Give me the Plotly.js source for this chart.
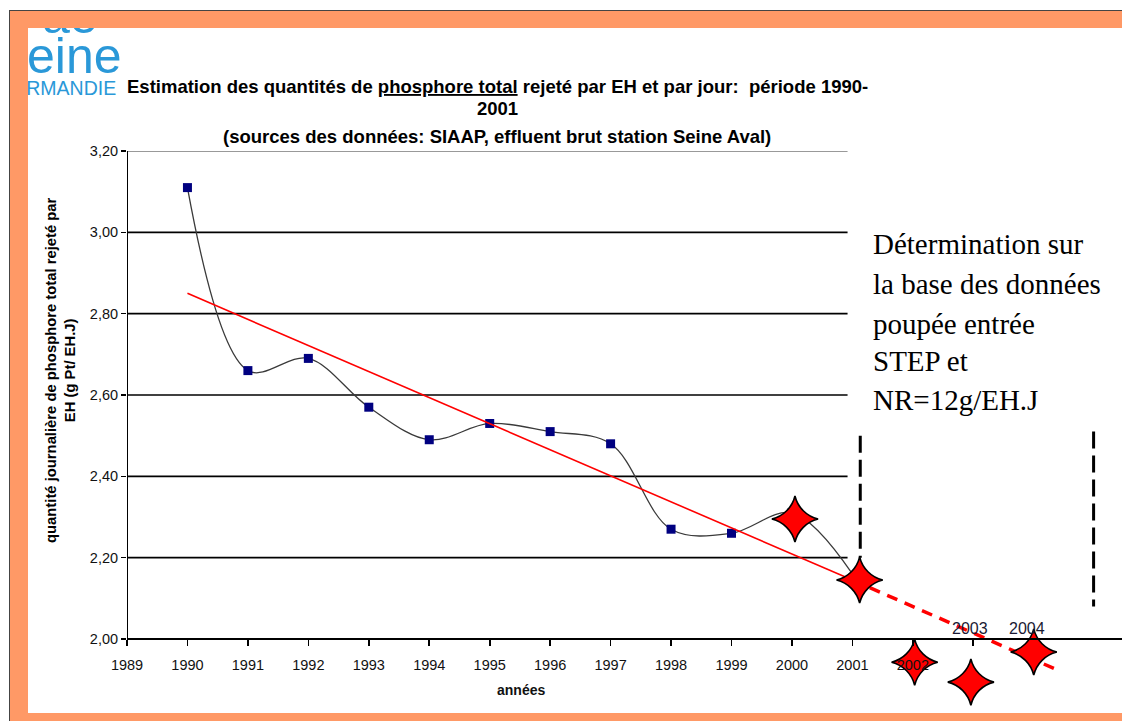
<!DOCTYPE html>
<html>
<head>
<meta charset="utf-8">
<script src="https://cdn.plot.ly/plotly-3.0.1.min.js"></script>
<style>
  html, body { margin:0; padding:0; background:#ffffff; width:1122px; height:721px; overflow:hidden; }
  #frame { position:absolute; left:9px; top:10px; width:1113px; height:711px; background:#FF9966;
           border-left:1px solid #444; border-top:1px solid #444; box-sizing:border-box; }
  #plot { position:absolute; left:28px; top:28px; width:1094px; height:685px; overflow:hidden; background:#ffffff; }
</style>
</head>
<body>
<div id="frame"></div>
<div id="plot"></div>
<script>
// ---------------- DATA ----------------
const years = [1990, 1991, 1992, 1993, 1994, 1995, 1996, 1997, 1998, 1999, 2000, 2001];
const phosphore = [3.11, 2.66, 2.69, 2.57, 2.49, 2.53, 2.51, 2.48, 2.27, 2.26, 2.31, 2.16];

const trendYears = [1990, 2001];
const trendValues = [2.85, 2.145];
const projYears = [2001, 2004.45];
const projValues = [2.145, 1.92];

const starYears = [2000.05, 2001.12, 2002.03, 2002.96, 2004.0];
const starValues = [2.295, 2.145, 1.943, 1.894, 1.968];

const sepLeftX = [2001.13, 2001.13];
const sepLeftY = [2.50, 2.20];
const sepRightX = [2004.99, 2004.99];
const sepRightY = [2.51, 2.08];

const xTickVals = [1989, 1990, 1991, 1992, 1993, 1994, 1995, 1996, 1997, 1998, 1999, 2000, 2001, 2002, 2003];
const xTickText = ['1989', '1990', '1991', '1992', '1993', '1994', '1995', '1996', '1997', '1998', '1999', '2000', '2001', '2002', ''];
const yTickVals = [2.0, 2.2, 2.4, 2.6, 2.8, 3.0, 3.2];
const yTickText = ['2,00', '2,20', '2,40', '2,60', '2,80', '3,00', '3,20'];

const extraYearLabels = ['2003', '2004'];
const extraYearX = [2002.95, 2003.89];

const noteLines = ['Détermination sur', 'la base des données', 'poupée entrée', 'STEP et', 'NR=12g/EH.J'];

// ---------------- LAYOUT GEOMETRY ----------------
const W = 1094, H = 685;
const M = { l: 99, r: 0, t: 123, b: 0 };
const plotW = W - M.l - M.r, plotH = H - M.t - M.b;
const xRange = [1989, 1989 + plotW / 60.45];
const yTop = 3.2, yAxisMin = 2.0;
const yRange = [yTop - plotH / 406.67, yTop];
const gridEnd = 2000.92;

function px(x) { return (x - M.l) / plotW; }
function py(y) { return 1 - (y - M.t) / plotH; }

const SANS = 'Liberation Sans, Arial, sans-serif';
const SERIF = 'Liberation Serif, Times New Roman, serif';
const LOGO = '#2a98d8';

// ---------------- TRACES ----------------
const traces = [
  { x: years, y: phosphore, mode: 'lines', line: { shape: 'spline', smoothing: 1, color: '#3a3a3a', width: 1.3 }, hoverinfo: 'skip' },
  { x: years.slice(0, 11), y: phosphore.slice(0, 11), mode: 'markers',
    marker: { symbol: 'square', size: 9, color: '#000080' }, hoverinfo: 'skip' },
  { x: trendYears, y: trendValues, mode: 'lines', line: { color: '#FF0000', width: 1.6 }, hoverinfo: 'skip' },
  { x: projYears, y: projValues, mode: 'lines', line: { color: '#FF0000', width: 3.5, dash: '11px,8px' }, hoverinfo: 'skip' },
  { x: sepLeftX, y: sepLeftY, mode: 'lines', line: { color: '#000000', width: 3, dash: '17px,7px' }, hoverinfo: 'skip' },
  { x: sepRightX, y: sepRightY, mode: 'lines', line: { color: '#000000', width: 3, dash: '17px,7px' }, hoverinfo: 'skip' },
  { x: starYears, y: starValues, mode: 'markers', cliponaxis: false,
    marker: { symbol: 'star-diamond', size: 33, color: '#FF0000', line: { color: '#000000', width: 1.6 } }, hoverinfo: 'skip' }
];

// ---------------- SHAPES ----------------
const shapes = [];
yTickVals.forEach(v => {
  if (v === yAxisMin) return;
  shapes.push({ type: 'line', xref: 'x', yref: 'y', x0: xRange[0], x1: gridEnd, y0: v, y1: v,
    line: { color: v === yTop ? '#777777' : '#000000', width: 1.7 }, layer: 'below' });
});
shapes.push({ type: 'line', xref: 'x', yref: 'y', x0: xRange[0], x1: xRange[0], y0: yAxisMin, y1: yTop,
  line: { color: '#000000', width: 2 } });

// ---------------- ANNOTATIONS ----------------
const annotations = [];
// logo (cropped at the frame edge, as in the original)
annotations.push({ xref: 'paper', yref: 'paper', x: px(12), y: py(-12), xanchor: 'left', yanchor: 'middle',
  text: 'ae', showarrow: false, font: { family: SANS, size: 50, color: LOGO } });
annotations.push({ xref: 'paper', yref: 'paper', x: px(-3), y: py(28), xanchor: 'left', yanchor: 'middle',
  text: 'eine', showarrow: false, font: { family: SANS, size: 50, color: LOGO } });
annotations.push({ xref: 'paper', yref: 'paper', x: px(90), y: py(60), xanchor: 'right', yanchor: 'middle',
  text: 'NORMANDIE', showarrow: false, font: { family: SANS, size: 19.5, color: LOGO } });
// title
const titleFont = { family: SANS, size: 18.5, color: '#000000' };
annotations.push({ xref: 'paper', yref: 'paper', x: px(469), y: py(58), xanchor: 'center', yanchor: 'middle', showarrow: false,
  text: '<b>Estimation des quantités de <u>phosphore total</u> rejeté par EH et par jour:&nbsp; période 1990-</b>', font: titleFont });
annotations.push({ xref: 'paper', yref: 'paper', x: px(469), y: py(81), xanchor: 'center', yanchor: 'middle', showarrow: false,
  text: '<b>2001</b>', font: titleFont });
annotations.push({ xref: 'paper', yref: 'paper', x: px(469), y: py(109), xanchor: 'center', yanchor: 'middle', showarrow: false,
  text: '<b>(sources des données: SIAAP, effluent brut station Seine Aval)</b>', font: titleFont });
// y title
annotations.push({ xref: 'paper', yref: 'paper', x: px(32), y: py(342), xanchor: 'center', yanchor: 'middle', showarrow: false,
  textangle: -90, align: 'center',
  text: '<b>quantité journalière de phosphore total rejeté par<br>EH (g Pt/ EH.J)</b>', font: { family: SANS, size: 14.8, color: '#000000' } });
// x title
annotations.push({ xref: 'paper', yref: 'paper', x: px(493), y: py(662), xanchor: 'center', yanchor: 'middle', showarrow: false,
  text: '<b>années</b>', font: { family: SANS, size: 14, color: '#111111' } });
// extra year labels above axis
extraYearLabels.forEach((t, i) => {
  annotations.push({ xref: 'x', yref: 'y', x: extraYearX[i], y: yAxisMin, yshift: 11, xanchor: 'center', yanchor: 'middle',
    showarrow: false, text: t, font: { family: SANS, size: 16, color: '#1a1a33' } });
});
// note text
const noteY = [216, 256, 296, 333, 372];
noteLines.forEach((t, i) => {
  annotations.push({ xref: 'paper', yref: 'paper', x: px(843), y: py(noteY[i]), xanchor: 'left', yanchor: 'middle',
    showarrow: false, text: t, font: { family: SERIF, size: 29, color: '#000000' } });
});

const layout = {
  width: W, height: H,
  margin: M,
  paper_bgcolor: '#ffffff', plot_bgcolor: 'rgba(0,0,0,0)',
  showlegend: false,
  hovermode: false,
  xaxis: {
    range: xRange, anchor: 'free', position: (yAxisMin - yRange[0]) / (yRange[1] - yRange[0]),
    showgrid: false, zeroline: false, showline: true, linecolor: '#000000', linewidth: 2,
    tickmode: 'array', tickvals: xTickVals, ticktext: xTickText,
    ticks: 'outside', ticklen: 6, tickwidth: 1.6, tickcolor: '#000000', ticklabelstandoff: 7,
    tickfont: { family: SANS, size: 14.5, color: '#111111' }, fixedrange: true
  },
  yaxis: {
    range: yRange, showgrid: false, zeroline: false, showline: false,
    tickmode: 'array', tickvals: yTickVals, ticktext: yTickText,
    ticks: 'outside', ticklen: 5, tickwidth: 1.6, tickcolor: '#000000',
    tickfont: { family: SANS, size: 14.5, color: '#111111' }, fixedrange: true
  },
  shapes: shapes,
  annotations: annotations
};

Plotly.newPlot('plot', traces, layout, { displayModeBar: false, staticPlot: true });
</script>
</body>
</html>
